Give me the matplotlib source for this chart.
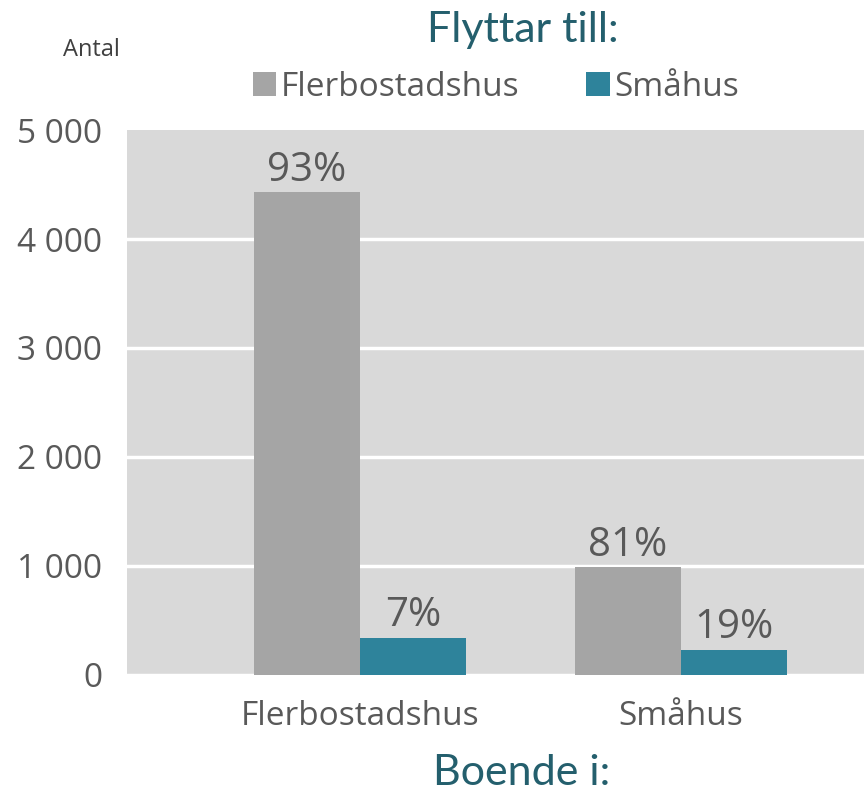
import matplotlib
matplotlib.use("Agg")
import matplotlib.pyplot as plt
from matplotlib.ticker import FuncFormatter
import numpy as np

# data
categories = ["Flerbostadshus", "Småhus"]      # Boende i
series_names = ["Flerbostadshus", "Småhus"]    # Flyttar till
flerbostadshus_vals = [4430, 990]
smahus_vals = [340, 230]
pct_flerbostadshus = ["93%", "81%"]
pct_smahus = ["7%", "19%"]
yticks = [0, 1000, 2000, 3000, 4000, 5000]

GRAY = "#a5a5a5"
TEAL = "#2e839b"
BG = "#d9d9d9"
TXT = "#595959"
TITLE = "#245f6d"

plt.rcParams["font.family"] = ["Open Sans", "DejaVu Sans"]

fig = plt.figure(figsize=(8.64, 7.93), dpi=100)
ax = fig.add_axes([0.147, 0.149, 0.853, 0.687])
ax.set_facecolor(BG)

x = np.arange(len(categories))
w = 0.33
b1 = ax.bar(x - w / 2, flerbostadshus_vals, w, color=GRAY, label=series_names[0], zorder=3)
b2 = ax.bar(x + w / 2, smahus_vals, w, color=TEAL, label=series_names[1], zorder=3)

for bars, labels in ((b1, pct_flerbostadshus), (b2, pct_smahus)):
    for r, t in zip(bars, labels):
        ax.annotate(t, (r.get_x() + r.get_width() / 2, r.get_height()),
                    xytext=(0, 1), textcoords="offset points",
                    ha="center", va="bottom", fontsize=29, color=TXT, zorder=4)

ax.set_xlim(-0.726, 1.57)
ax.set_ylim(0, 5000)
ax.set_yticks(yticks)
ax.yaxis.set_major_formatter(FuncFormatter(lambda v, p: f"{int(v):,}".replace(",", " ")))
ax.set_xticks(x)
ax.set_xticklabels(categories)
ax.grid(axis="y", color="white", linewidth=2.5, zorder=1)
ax.tick_params(axis="both", length=0, labelsize=24, labelcolor=TXT)
ax.tick_params(axis="y", pad=18)
ax.tick_params(axis="x", pad=18)
for s in ax.spines.values():
    s.set_visible(False)
ax.yaxis.get_gridlines()[-1].set_visible(False)

fig.text(0.106, 0.937, "Antal", fontsize=17, color="#404040", ha="center", va="center")
fig.text(0.605, 0.962, "Flyttar till:", fontsize=31, color=TITLE, ha="center", va="center",
         family=["Lato", "DejaVu Sans"])
fig.text(0.604, 0.025, "Boende i:", fontsize=31, color=TITLE, ha="center", va="center",
         family=["Lato", "DejaVu Sans"])

fig.legend(handles=[b1, b2], loc="center", bbox_to_anchor=(0.574, 0.89), ncol=2,
           frameon=False, fontsize=24, labelcolor=TXT, handlelength=0.7, handleheight=0.7,
           handletextpad=0.15, columnspacing=2.0, borderaxespad=0)

fig.savefig("out.png", dpi=100)
